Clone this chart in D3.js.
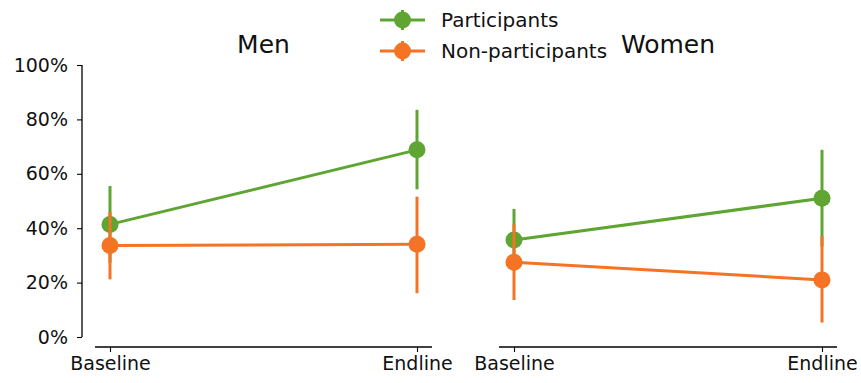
<!DOCTYPE html>
<html>
<head>
<meta charset="utf-8">
<script src="https://cdn.jsdelivr.net/npm/d3@7"></script>
<style>
  body { margin: 0; background: #fff; }
  svg { display: block; font-family: "DejaVu Sans", sans-serif; }
</style>
</head>
<body>
<svg id="chart" width="861" height="383"></svg>
<script>
// Survey waves on the x axis
const waves = ["Baseline", "Endline"];
// Panels
const panels = ["Men", "Women"];
// Series names and colours
const seriesNames = ["Participants", "Non-participants"];
const seriesColors = ["#5ea532", "#f47324"];

// Point estimates (share, 0-1), per panel: [Baseline, Endline]
const menParticipants = [0.414, 0.688];
const menNonParticipants = [0.336, 0.341];
const womenParticipants = [0.357, 0.510];
const womenNonParticipants = [0.275, 0.210];

// Confidence intervals [low, high]
const menParticipantsCI = [[0.273, 0.555], [0.543, 0.835]];
const menNonParticipantsCI = [[0.212, 0.460], [0.161, 0.516]];
const womenParticipantsCI = [[0.243, 0.471], [0.333, 0.688]];
const womenNonParticipantsCI = [[0.136, 0.414], [0.053, 0.371]];

const yTicks = [0, 0.2, 0.4, 0.6, 0.8, 1.0];

const panelData = [
  { title: panels[0], series: [
      { values: menParticipants, ci: menParticipantsCI },
      { values: menNonParticipants, ci: menNonParticipantsCI } ] },
  { title: panels[1], series: [
      { values: womenParticipants, ci: womenParticipantsCI },
      { values: womenNonParticipants, ci: womenNonParticipantsCI } ] }
];

const svg = d3.select("#chart");
const plotTop = 65, plotBottom = 337;
const y = d3.scaleLinear().domain([0, 1]).range([plotBottom, plotTop]);

// Panel extents (x axis spine)
const panelBoxes = [
  { x0: 95, x1: 432 },
  { x0: 499, x1: 837 }
];
const inset = 15;

panelData.forEach((p, i) => {
  const box = panelBoxes[i];
  const x = d3.scalePoint().domain(waves).range([box.x0 + inset, box.x1 - inset]).padding(0);
  const g = svg.append("g");

  // x axis
  const xAxis = g.append("g")
    .attr("transform", `translate(0,${plotBottom + 10})`)
    .call(d3.axisBottom(x).tickSize(5).tickPadding(5));
  xAxis.select(".domain").attr("d", `M${box.x0},0H${box.x1}`).attr("stroke", "#000").attr("stroke-width", 1.3);
  xAxis.selectAll(".tick line").attr("stroke", "#000").attr("stroke-width", 1.1);
  xAxis.selectAll(".tick text").attr("font-size", 19).attr("font-family", "DejaVu Sans").attr("fill", "#111");

  // y axis only on first panel
  if (i === 0) {
    const yAxis = g.append("g")
      .attr("transform", `translate(82,0)`)
      .call(d3.axisLeft(y).tickValues(yTicks).tickFormat(d3.format(".0%")).tickSize(5).tickPadding(9));
    yAxis.select(".domain").attr("d", `M0,${plotTop}V${plotBottom}`).attr("stroke", "#000").attr("stroke-width", 1.3);
    yAxis.selectAll(".tick line").attr("stroke", "#000").attr("stroke-width", 1.1);
    yAxis.selectAll(".tick text").attr("font-size", 19).attr("font-family", "DejaVu Sans").attr("fill", "#111");
  }

  // title
  g.append("text")
    .attr("x", (box.x0 + box.x1) / 2)
    .attr("y", 53)
    .attr("text-anchor", "middle")
    .attr("font-size", 25)
    .attr("fill", "#111")
    .text(p.title);

  const line = d3.line().x((d, j) => x(waves[j])).y(d => y(d));

  p.series.forEach((s, k) => {
    const c = seriesColors[k];
    const sg = g.append("g");
    // error bars
    sg.selectAll("line.err").data(s.ci).join("line")
      .attr("x1", (d, j) => x(waves[j])).attr("x2", (d, j) => x(waves[j]))
      .attr("y1", d => y(d[0])).attr("y2", d => y(d[1]))
      .attr("stroke", c).attr("stroke-width", 3);
    // connecting line
    sg.append("path").datum(s.values)
      .attr("d", line).attr("fill", "none")
      .attr("stroke", c).attr("stroke-width", 3);
    // points
    sg.selectAll("circle").data(s.values).join("circle")
      .attr("cx", (d, j) => x(waves[j])).attr("cy", d => y(d))
      .attr("r", 8.5).attr("fill", c);
  });
});

// legend
const legend = svg.append("g");
seriesNames.forEach((name, k) => {
  const cy = 20 + k * 31;
  const c = seriesColors[k];
  legend.append("line").attr("x1", 380).attr("x2", 425).attr("y1", cy).attr("y2", cy)
    .attr("stroke", c).attr("stroke-width", 3);
  legend.append("line").attr("x1", 402.5).attr("x2", 402.5).attr("y1", cy - 10).attr("y2", cy + 10)
    .attr("stroke", c).attr("stroke-width", 3);
  legend.append("circle").attr("cx", 402.5).attr("cy", cy).attr("r", 8.5).attr("fill", c);
  legend.append("text").attr("x", 441).attr("y", cy + 7)
    .attr("font-size", 20).attr("fill", "#111").text(name);
});
</script>
</body>
</html>
